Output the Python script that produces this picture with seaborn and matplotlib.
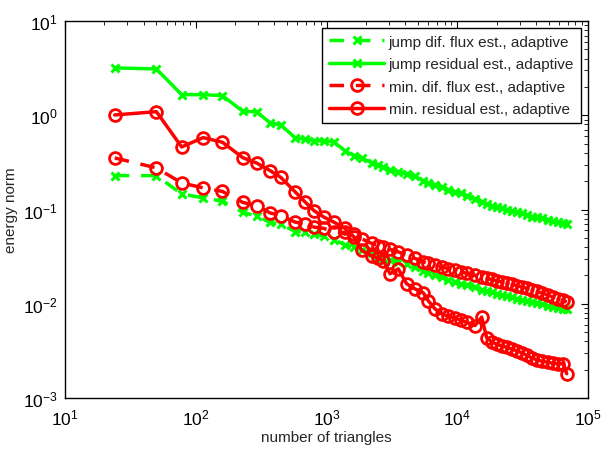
import numpy as np
import pandas as pd
import matplotlib
matplotlib.use("Agg")
import matplotlib.pyplot as plt
import seaborn as sns
from matplotlib.ticker import LogLocator, LogFormatterMathtext, NullFormatter

# number of triangles (shared mesh sequence)
triangles = [24, 50, 78, 114, 160, 229, 294, 370, 446, 579, 685, 807, 957, 1141, 1385,
             1623, 1859, 2217, 2490, 2719, 3060, 3541, 4106, 4752, 5500, 6006, 6756,
             7604, 8540, 9611, 10683, 11812, 13672, 15382, 16800, 18345, 20030, 21878,
             23888, 26089, 28496, 31117, 33985, 37108, 40530, 44720, 49720, 54280,
             59270, 64730, 68740]

jump_flux = [0.2288, 0.2288, 0.1464, 0.1327, 0.1225, 0.0936, 0.0849, 0.0730, 0.0695,
             0.0583, 0.0579, 0.0551, 0.0521, 0.0479, 0.0421, 0.0398, 0.0373, 0.0342,
             0.0322, 0.0307, 0.0292, 0.0275, 0.0262, 0.0243, 0.0223, 0.0213, 0.0203,
             0.01905, 0.0179, 0.01707, 0.01626, 0.01567, 0.01492, 0.01405, 0.01354,
             0.01321, 0.01274, 0.01243, 0.01199, 0.01170, 0.01127, 0.01100, 0.01074,
             0.01040, 0.01015, 0.00985, 0.00950, 0.00927, 0.00905, 0.00890, 0.00872]

jump_resid = [3.18, 3.10, 1.654, 1.654, 1.614, 1.103, 1.084, 0.829, 0.789, 0.574, 0.561,
              0.538, 0.530, 0.521, 0.418, 0.373, 0.352, 0.312, 0.297, 0.281, 0.265,
              0.252, 0.2384, 0.2254, 0.2025, 0.1915, 0.1823, 0.1724, 0.1626, 0.1548,
              0.1482, 0.1404, 0.1295, 0.1213, 0.1147, 0.1100, 0.1058, 0.1032, 0.0997,
              0.0973, 0.0936, 0.0914, 0.0877, 0.0841, 0.0829, 0.0809, 0.0776, 0.0751,
              0.0733, 0.0721, 0.0704]

min_flux = [0.3525, 0.2762, 0.1915, 0.1695, 0.1555, 0.1189, 0.1092, 0.0920, 0.0862,
            0.0733, 0.0704, 0.0649, 0.0630, 0.0575, 0.0572, 0.0545, 0.0488, 0.0437,
            0.0411, 0.0396, 0.0377, 0.0355, 0.0330, 0.0303, 0.0278, 0.0268, 0.0259,
            0.0246, 0.0236, 0.0226, 0.0218, 0.0210, 0.0200, 0.0193, 0.0186, 0.0181,
            0.0175, 0.0171, 0.0165, 0.0161, 0.0156, 0.0151, 0.0146, 0.0140, 0.0135,
            0.0130, 0.0123, 0.0117, 0.0113, 0.0109, 0.0104]

min_resid = [1.007, 1.092, 0.461, 0.579, 0.517, 0.355, 0.310, 0.2585, 0.2200, 0.1526,
             0.1204, 0.0966, 0.0829, 0.0733, 0.0630, 0.0512, 0.0368, 0.0322, 0.0303,
             0.0287, 0.0208, 0.0234, 0.01626, 0.01439, 0.01305, 0.01074, 0.00883,
             0.00781, 0.00735, 0.00709, 0.00667, 0.00635, 0.00587, 0.00721, 0.00435,
             0.00394, 0.00371, 0.00358, 0.00345, 0.00332, 0.00317, 0.00302, 0.00284,
             0.00267, 0.00254, 0.00245, 0.00239, 0.00233, 0.00232, 0.00231, 0.00181]

labels = ["jump dif. flux est., adaptive", "jump residual est., adaptive",
          "min. dif. flux est., adaptive", "min. residual est., adaptive"]

sns.set_style("white")
plt.rcParams['font.family'] = ['Liberation Sans', 'DejaVu Sans']
plt.rcParams['mathtext.fontset'] = 'custom'
plt.rcParams['mathtext.rm'] = 'Liberation Sans'
plt.rcParams['mathtext.it'] = 'Liberation Sans'

fig = plt.figure(figsize=(6.02, 4.52), dpi=100)
ax = fig.add_axes([65/602, 1-399/452, (588-65)/602, (399-22)/452])

dash = (0, (4.2, 3.4))
styles = [
    dict(values=jump_flux, color=(0, 1, 0), ls=dash, marker='x', mfc=(0, 1, 0), ms=5.5, mew=2.2),
    dict(values=jump_resid, color=(0, 1, 0), ls='-', marker='x', mfc=(0, 1, 0), ms=5.5, mew=2.2),
    dict(values=min_flux, color=(1, 0, 0), ls=dash, marker='o', mfc='none', ms=8.5, mew=2),
    dict(values=min_resid, color=(1, 0, 0), ls='-', marker='o', mfc='none', ms=8.5, mew=2),
]

for lab, st in zip(labels, styles):
    df = pd.DataFrame({"triangles": triangles, "value": st["values"]})
    sns.lineplot(data=df, x="triangles", y="value", ax=ax, estimator=None, sort=False,
                 color=st["color"], linewidth=2.5, label=lab)
    line = ax.lines[-1]
    line.set_linestyle(st["ls"])
    line.set_marker(st["marker"])
    line.set_markersize(st["ms"])
    line.set_markeredgewidth(st["mew"])
    line.set_markeredgecolor(st["color"])
    line.set_markerfacecolor(st["mfc"])

ax.set_xscale('log')
ax.set_yscale('log')
ax.set_xlim(10, 1e5)
ax.set_ylim(1e-3, 10)

for axis in (ax.xaxis, ax.yaxis):
    axis.set_major_locator(LogLocator(base=10, numticks=10))
    axis.set_major_formatter(LogFormatterMathtext())
    axis.set_minor_locator(LogLocator(base=10, subs=np.arange(2, 10), numticks=20))
    axis.set_minor_formatter(NullFormatter())

ax.tick_params(which='both', direction='in', top=True, right=True, labelsize=12.5, colors='black')
ax.tick_params(which='major', length=5, width=0.8)
ax.tick_params(which='minor', length=3, width=0.6)
ax.tick_params(axis='x', pad=7)
ax.tick_params(axis='y', pad=5)
for sp in ax.spines.values():
    sp.set_visible(True)
    sp.set_color('black')
    sp.set_linewidth(1.0)

ax.set_xlabel("number of triangles", fontsize=11, labelpad=2)
ax.set_ylabel("energy norm", fontsize=11, labelpad=4)

leg = ax.legend(loc='upper right', fontsize=11, frameon=True, fancybox=False,
                edgecolor='black', framealpha=1, handlelength=3.6, handletextpad=0.3,
                labelspacing=0.55, borderpad=0.45, borderaxespad=0.45)
leg.get_frame().set_linewidth(1.0)

fig.savefig("out.png", dpi=100)
